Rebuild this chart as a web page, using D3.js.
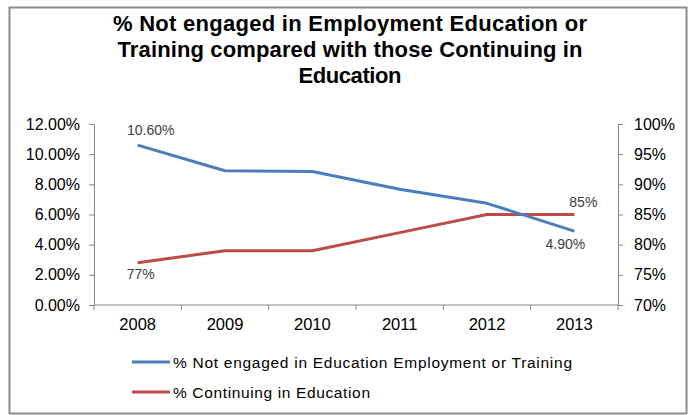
<!DOCTYPE html>
<html>
<head>
<meta charset="utf-8">
<script src="https://cdn.jsdelivr.net/npm/d3@7"></script>
<style>
  html, body { margin: 0; padding: 0; background: #fff; }
  svg { display: block; font-family: Arial, "Liberation Sans", sans-serif; }
</style>
</head>
<body>
<svg id="chart" width="689" height="415"></svg>
<script>
// Chart data
const years = ["2008", "2009", "2010", "2011", "2012", "2013"];
const neetValues = [0.106, 0.089, 0.0885, 0.0767, 0.0674, 0.049];
const continuingValues = [0.77, 0.79, 0.79, 0.82, 0.85, 0.85];
const leftTicks = [0, 0.02, 0.04, 0.06, 0.08, 0.10, 0.12];
const rightTicks = [0.70, 0.75, 0.80, 0.85, 0.90, 0.95, 1.00];
const titleLines = [
  "% Not engaged in Employment Education or",
  "Training compared with those Continuing in",
  "Education"
];
const seriesNames = [
  "% Not engaged in Education Employment or Training",
  "% Continuing in Education"
];
// Only the end points carry value labels
const labelIndices = [0, 5];

const BLUE = "#4A7EBB";
const RED = "#BE4B48";
const AXIS = "#868686";
const LABEL = "#404040";
const FONT = "Arial, 'Liberation Sans', sans-serif";

const svg = d3.select("#chart");

// Outer frame
svg.append("rect")
  .attr("x", 9.5).attr("y", 7.5)
  .attr("width", 677).attr("height", 406)
  .attr("fill", "#fff")
  .attr("stroke", "#8c8c8c")
  .attr("stroke-width", 2);

// Title, one text element per line, spaced out slightly like the chart's renderer
const titleWidths = [474, 465, 103];
titleLines.forEach((line, i) => {
  svg.append("text")
    .attr("x", 350)
    .attr("y", 31 + i * 26)
    .attr("text-anchor", "middle")
    .attr("font-weight", "bold")
    .attr("font-size", 22)
    .attr("fill", "#000")
    .attr("textLength", titleWidths[i])
    .attr("lengthAdjust", "spacing")
    .text(line);
});

// Scales
const x = d3.scaleBand().domain(years).range([94, 618]).padding(0);
const yLeft = d3.scaleLinear().domain([0, 0.12]).range([305, 124]);
const yRight = d3.scaleLinear().domain([0.70, 1.00]).range([305, 124]);
const cx = d => x(d) + x.bandwidth() / 2;

// Axes
const leftAxis = d3.axisLeft(yLeft)
  .tickValues(leftTicks)
  .tickFormat(d3.format(".2%"))
  .tickSize(5)
  .tickPadding(9);
const rightAxis = d3.axisRight(yRight)
  .tickValues(rightTicks)
  .tickFormat(d3.format(".0%"))
  .tickSize(5)
  .tickPadding(11);

function styleAxis(g, size) {
  g.select(".domain").attr("stroke", AXIS).attr("stroke-width", 1);
  g.selectAll(".tick line").attr("stroke", AXIS);
  g.selectAll(".tick text")
    .attr("fill", "#000")
    .attr("font-size", size)
    .attr("font-family", FONT);
}

svg.append("g")
  .attr("transform", "translate(94,0)")
  .call(leftAxis)
  .call(g => styleAxis(g, 16));

svg.append("g")
  .attr("transform", "translate(618,0)")
  .call(rightAxis)
  .call(g => styleAxis(g, 16));

// Category axis: ticks between categories, labels centred in bands
const xAxisG = svg.append("g").attr("transform", "translate(0,305)");
xAxisG.append("line")
  .attr("x1", 94).attr("x2", 618)
  .attr("stroke", AXIS);
const boundaries = years.map(d => x(d)).concat([x(years[years.length - 1]) + x.bandwidth()]);
xAxisG.selectAll("line.tick")
  .data(boundaries)
  .join("line")
  .attr("class", "tick")
  .attr("x1", d => d).attr("x2", d => d)
  .attr("y1", 0).attr("y2", 5)
  .attr("stroke", AXIS);
xAxisG.selectAll("text")
  .data(years)
  .join("text")
  .attr("x", d => cx(d))
  .attr("y", 25)
  .attr("text-anchor", "middle")
  .attr("font-size", 16.5)
  .attr("fill", "#000")
  .text(d => d);

// Lines
const neetLine = d3.line()
  .x((d, i) => cx(years[i]))
  .y(d => yLeft(d));
const contLine = d3.line()
  .x((d, i) => cx(years[i]))
  .y(d => yRight(d));

svg.append("path")
  .datum(continuingValues)
  .attr("d", contLine)
  .attr("fill", "none")
  .attr("stroke", RED)
  .attr("stroke-width", 3)
  .attr("stroke-linejoin", "round");

svg.append("path")
  .datum(neetValues)
  .attr("d", neetLine)
  .attr("fill", "none")
  .attr("stroke", BLUE)
  .attr("stroke-width", 3)
  .attr("stroke-linejoin", "round");

// Value labels
const pct2 = d3.format(".2%");
const pct0 = d3.format(".0%");
const neetLabelDy = [-10, 18];
const contLabelDy = [16, -8];
labelIndices.forEach((idx, k) => {
  svg.append("text")
    .attr("x", cx(years[idx]) + (k === 0 ? 13 : -9))
    .attr("y", yLeft(neetValues[idx]) + neetLabelDy[k])
    .attr("text-anchor", "middle")
    .attr("font-size", 14)
    .attr("fill", LABEL)
    .text(pct2(neetValues[idx]));
  svg.append("text")
    .attr("x", cx(years[idx]) + (k === 0 ? 3 : 9))
    .attr("y", yRight(continuingValues[idx]) + contLabelDy[k])
    .attr("text-anchor", "middle")
    .attr("font-size", 14)
    .attr("fill", LABEL)
    .text(pct0(continuingValues[idx]));
});

// Legend
const legend = svg.append("g");
const legendWidths = [399, 197];
[BLUE, RED].forEach((color, i) => {
  const ly = 362 + i * 30;
  legend.append("line")
    .attr("x1", 132).attr("x2", 170)
    .attr("y1", ly).attr("y2", ly)
    .attr("stroke", color)
    .attr("stroke-width", 3);
  legend.append("text")
    .attr("x", 173)
    .attr("y", ly + 5.5)
    .attr("font-size", 15.5)
    .attr("fill", "#000")
    .attr("textLength", legendWidths[i])
    .attr("lengthAdjust", "spacing")
    .text(seriesNames[i]);
});
</script>
</body>
</html>
